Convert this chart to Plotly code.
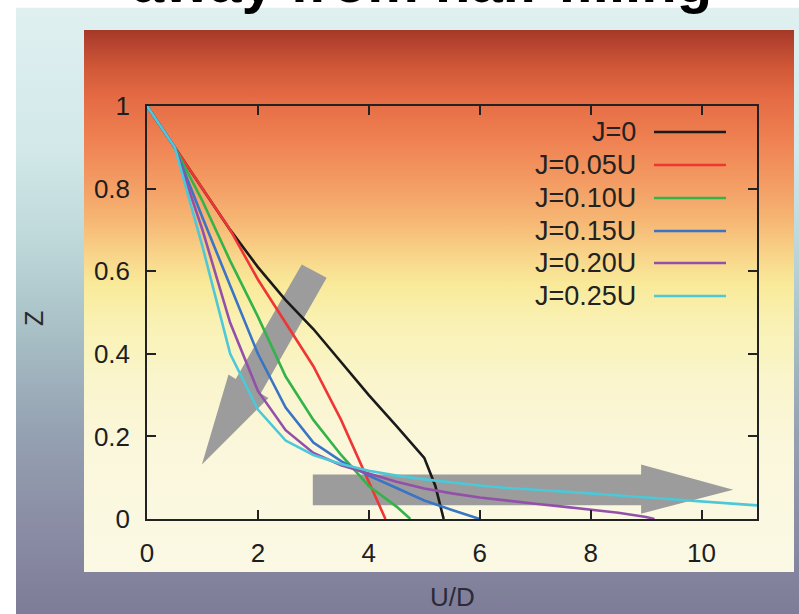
import base64
import plotly.graph_objects as go

# ---------------- data ----------------
series_names = ["J=0", "J=0.05U", "J=0.10U", "J=0.15U", "J=0.20U", "J=0.25U"]
series_colors = ["#1a1a1a", "#ef3535", "#34b34a", "#3a74c4", "#9350aa", "#4cc8d8"]

x_j000 = [0, 0.5, 1.0, 1.5, 2.0, 2.5, 3.0, 3.5, 4.0, 4.5, 5.0, 5.2, 5.35]
z_j000 = [1, 0.9, 0.80, 0.70, 0.61, 0.53, 0.46, 0.38, 0.30, 0.225, 0.148, 0.08, 0.0]

x_j005 = [0, 0.5, 1.0, 1.5, 2.0, 2.5, 3.0, 3.5, 4.0, 4.3]
z_j005 = [1, 0.9, 0.80, 0.70, 0.58, 0.475, 0.37, 0.24, 0.09, 0.0]

x_j010 = [0, 0.5, 1.0, 1.5, 2.0, 2.5, 3.0, 3.5, 4.0, 4.5, 4.75]
z_j010 = [1, 0.9, 0.77, 0.625, 0.49, 0.345, 0.24, 0.155, 0.08, 0.03, 0.0]

x_j015 = [0, 0.5, 1.0, 1.5, 2.0, 2.5, 3.0, 3.5, 4.0, 4.5, 5.0, 5.5, 6.0]
z_j015 = [1, 0.9, 0.73, 0.565, 0.40, 0.27, 0.185, 0.14, 0.105, 0.075, 0.045, 0.022, 0.0]

x_j020 = [0, 0.5, 1.0, 1.5, 2.0, 2.5, 3.0, 3.5, 4.0, 4.5, 5.0, 5.5, 6.0, 6.5, 7.0, 7.5, 8.0, 8.5, 9.0, 9.15]
z_j020 = [1, 0.9, 0.70, 0.475, 0.31, 0.215, 0.16, 0.13, 0.11, 0.09, 0.074, 0.062, 0.052, 0.044, 0.037, 0.030, 0.023, 0.015, 0.005, 0.0]

x_j025 = [0, 0.5, 1.0, 1.5, 2.0, 2.5, 3.0, 3.5, 4.0, 4.5, 5.0, 5.5, 6.0, 6.5, 7.0, 7.5, 8.0, 8.5, 9.0, 9.5, 10.0, 10.5, 11.0]
z_j025 = [1, 0.9, 0.66, 0.40, 0.265, 0.19, 0.155, 0.133, 0.117, 0.105, 0.096, 0.088, 0.081, 0.075, 0.071, 0.066, 0.062, 0.057, 0.052, 0.047, 0.043, 0.038, 0.033]

series_x = [x_j000, x_j005, x_j010, x_j015, x_j020, x_j025]
series_z = [z_j000, z_j005, z_j010, z_j015, z_j020, z_j025]

x_ticks = [0, 2, 4, 6, 8, 10]
y_ticks = [0, 0.2, 0.4, 0.6, 0.8, 1]

# ---------------- figure ----------------
W, H = 799, 614
ML, MR, MT, MB = 147, 42, 106, 95
FONT = "Liberation Sans, Arial, Helvetica, sans-serif"


def svg_gradient(stops):
    s = "".join(f"<stop offset='{o}' stop-color='{c}'/>" for o, c in stops)
    svg = ("<svg xmlns='http://www.w3.org/2000/svg' width='100' height='100' "
           "viewBox='0 0 100 100' preserveAspectRatio='none'><defs>"
           "<linearGradient id='g' x1='0' y1='0' x2='0' y2='1'>" + s +
           "</linearGradient></defs><rect width='100' height='100' fill='url(#g)'/></svg>")
    return "data:image/svg+xml;base64," + base64.b64encode(svg.encode()).decode()


pw = W - ML - MR
ph = H - MT - MB


def px2paper(px, py):
    return (px - ML) / pw, (H - MB - py) / ph


outer_stops = [(0, "#e0f0f1"), (0.235, "#d2e8e9"), (0.40, "#bcd6d8"), (0.532, "#a8c0c6"),
               (0.697, "#95a2b2"), (0.861, "#8a8ca4"), (1, "#7e7c98")]
inner_stops = [(0, "#a53827"), (0.028, "#b84530"), (0.074, "#d35a38"), (0.129, "#e56c45"),
               (0.203, "#ef8152"), (0.277, "#f39a62"), (0.351, "#f6b674"), (0.415, "#f8d489"),
               (0.470, "#f9ea9a"), (0.535, "#f9f1b2"), (0.646, "#faf5cc"), (0.775, "#faf7dc"),
               (1, "#fbf9e4")]

images = []
for (x0, y0, x1, y1, stops) in [(16, 7.5, 799, 614, outer_stops), (84, 30, 794, 572, inner_stops)]:
    px0, py0 = px2paper(x0, y0)
    px1, py1 = px2paper(x1, y1)
    images.append(dict(source=svg_gradient(stops), xref="paper", yref="paper",
                       x=px0, y=py0, sizex=px1 - px0, sizey=py0 - py1,
                       xanchor="left", yanchor="top", sizing="stretch", layer="below"))

fig = go.Figure()
for name, color, xs, zs in zip(series_names, series_colors, series_x, series_z):
    fig.add_trace(go.Scatter(x=xs, y=zs, mode="lines", name=name,
                             line=dict(color=color, width=2.6), showlegend=False,
                             cliponaxis=True))

# gray arrows (decorations, in data units)
diag_arrow = [(2.79, 0.616), (3.24, 0.584), (2.05, 0.304), (2.19, 0.293), (0.99, 0.132),
              (1.47, 0.350), (1.60, 0.339)]
horiz_arrow = [(2.99, 0.108), (8.91, 0.108), (8.91, 0.132), (10.57, 0.071), (8.91, 0.013),
               (8.91, 0.033), (2.99, 0.033)]
shapes = []
for poly in (diag_arrow, horiz_arrow):
    path = "M " + " L ".join(f"{a},{b}" for a, b in poly) + " Z"
    shapes.append(dict(type="path", path=path, xref="x", yref="y", layer="below",
                       fillcolor="#9c9c9c", line=dict(width=0)))

# legend drawn as text + line samples (text on left, sample on right)
annotations = []
row_py = [132, 165, 198, 231, 263, 296]
for name, color, py in zip(series_names, series_colors, row_py):
    tx, ty = px2paper(638, py)
    annotations.append(dict(text=name, xref="paper", yref="paper", x=tx, y=ty,
                            xanchor="right", yanchor="middle", showarrow=False,
                            font=dict(family=FONT, size=27, color="#222222")))
    lx0, _ = px2paper(654, py)
    lx1, _ = px2paper(726, py)
    shapes.append(dict(type="line", xref="paper", yref="paper", x0=lx0, x1=lx1, y0=ty, y1=ty,
                       line=dict(color=color, width=2.6)))

# axis titles
zx, zy = px2paper(34, 319)
annotations.append(dict(text="Z", xref="paper", yref="paper", x=zx, y=zy, textangle=-90,
                        xanchor="center", yanchor="middle", showarrow=False,
                        font=dict(family=FONT, size=25, color="#2a2a2a")))
ux, uy = px2paper(452, 597)
annotations.append(dict(text="U/D", xref="paper", yref="paper", x=ux, y=uy,
                        xanchor="center", yanchor="middle", showarrow=False,
                        font=dict(family=FONT, size=26, color="#2a2a38")))
# cut-off title at the top
tx, ty = px2paper(422, -18)
annotations.append(dict(text="<b>away from half-filling</b>", xref="paper", yref="paper",
                        x=tx, y=ty, xanchor="center", yanchor="middle", showarrow=False,
                        font=dict(family=FONT, size=58, color="#000000")))

axis_common = dict(showline=True, linecolor="#222222", linewidth=1.5, mirror="ticks",
                   ticks="inside", ticklen=9, tickwidth=1.5, tickcolor="#222222",
                   showgrid=False, zeroline=False,
                   tickfont=dict(family=FONT, size=26, color="#1e1e1e"))

fig.update_layout(
    width=W, height=H, autosize=False,
    margin=dict(l=ML, r=MR, t=MT, b=MB, pad=0),
    paper_bgcolor="#ffffff", plot_bgcolor="rgba(0,0,0,0)",
    xaxis=dict(range=[0, 11], tickvals=x_ticks, ticklabelstandoff=10, **axis_common),
    yaxis=dict(range=[0, 1], tickvals=y_ticks, ticklabelstandoff=10, **axis_common),
    images=images, shapes=shapes, annotations=annotations, showlegend=False,
)

fig.write_html("out.html", config={"displayModeBar": False},
               post_script="document.body.style.margin='0';document.body.style.padding='0';"
                           "document.body.style.overflow='hidden';")
